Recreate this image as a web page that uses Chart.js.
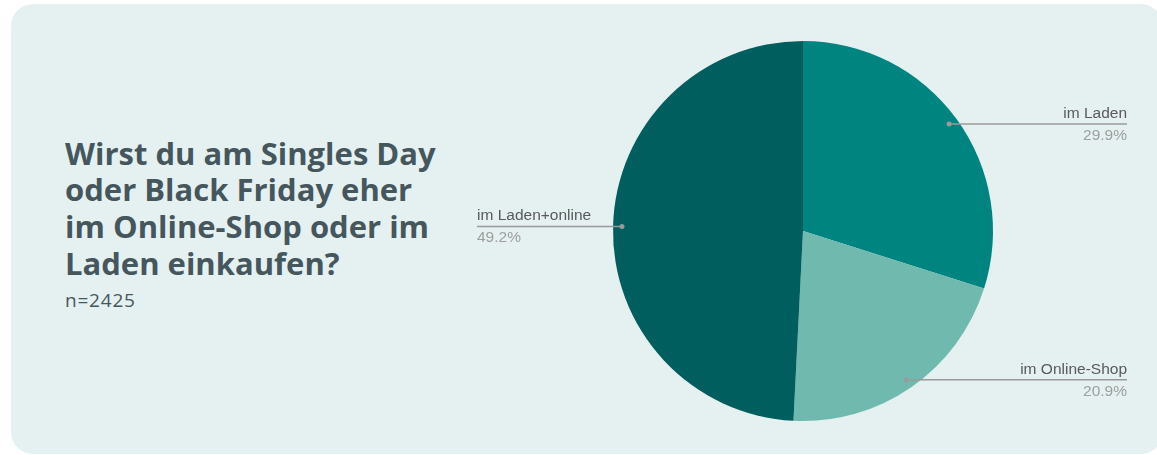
<!DOCTYPE html>
<html>
<head>
<meta charset="utf-8">
<script src="https://cdn.jsdelivr.net/npm/chart.js@4"></script>
<style>
  html, body { margin: 0; padding: 0; background: #ffffff; }
  body { width: 1157px; height: 455px; position: relative; overflow: hidden; }
  .card {
    position: absolute; left: 11px; top: 4px; width: 1152px; height: 450px;
    background: #E5F1F1; border-radius: 22px;
  }
  .title {
    position: absolute; left: 65px; top: 134.5px;
    font-family: "Open Sans", Lato, sans-serif; font-weight: 700;
    font-size: 31px; line-height: 36.7px; color: #46565D;
  }
  .sub {
    position: absolute; left: 65px; top: 286.5px;
    font-family: "Open Sans", Lato, sans-serif; font-size: 19px;
    letter-spacing: 0.8px; color: #46565D;
  }
  #chart { position: absolute; left: 0; top: 0; }
</style>
</head>
<body>
<div class="card"></div>
<div class="title">Wirst du am Singles Day<br>oder Black Friday eher<br>im Online-Shop oder im<br>Laden einkaufen?</div>
<div class="sub">n=2425</div>
<canvas id="chart" width="1157" height="455"></canvas>
<script>
// Chart data
const labels = ['im Laden', 'im Online-Shop', 'im Laden+online'];
const values = [29.9, 20.9, 49.2];
const colors = ['#00847F', '#70B9AF', '#005E5E'];

// Draws the dot, leader line and the two text rows for each slice
const leaderLabels = {
    id: 'leaderLabels',
    afterDatasetsDraw(chart) {
        const ctx = chart.ctx;
        const arcs = chart.getDatasetMeta(0).data;
        ctx.save();
        arcs.forEach((arc, i) => {
            const mid = (arc.startAngle + arc.endAngle) / 2;
            const r = arc.outerRadius * 0.953;
            const px = arc.x + Math.cos(mid) * r;
            const py = arc.y + Math.sin(mid) * r;
            const right = Math.cos(mid) >= 0;
            const endX = right ? 1127 : 477;

            ctx.strokeStyle = '#9A9A9A';
            ctx.lineWidth = 1.5;
            ctx.beginPath();
            ctx.moveTo(px, py);
            ctx.lineTo(endX, py);
            ctx.stroke();

            ctx.fillStyle = '#9A9A9A';
            ctx.beginPath();
            ctx.arc(px, py, 2.5, 0, Math.PI * 2);
            ctx.fill();

            ctx.textAlign = right ? 'right' : 'left';
            ctx.textBaseline = 'alphabetic';
            ctx.font = '15.5px "Liberation Sans", Arial, sans-serif';
            ctx.fillStyle = '#595959';
            ctx.fillText(labels[i], endX, py - 6);
            ctx.fillStyle = '#9E9E9E';
            ctx.fillText(values[i].toFixed(1) + '%', endX, py + 16);
        });
        ctx.restore();
    }
};

new Chart(document.getElementById('chart'), {
    type: 'pie',
    data: {
        labels: labels,
        datasets: [{
            data: values,
            backgroundColor: colors,
            borderWidth: 0
        }]
    },
    options: {
        responsive: false,
        animation: false,
        layout: { padding: { left: 613, right: 164, top: 41, bottom: 34 } },
        plugins: {
            legend: { display: false },
            tooltip: { enabled: false }
        }
    },
    plugins: [leaderLabels]
});
</script>
</body>
</html>
